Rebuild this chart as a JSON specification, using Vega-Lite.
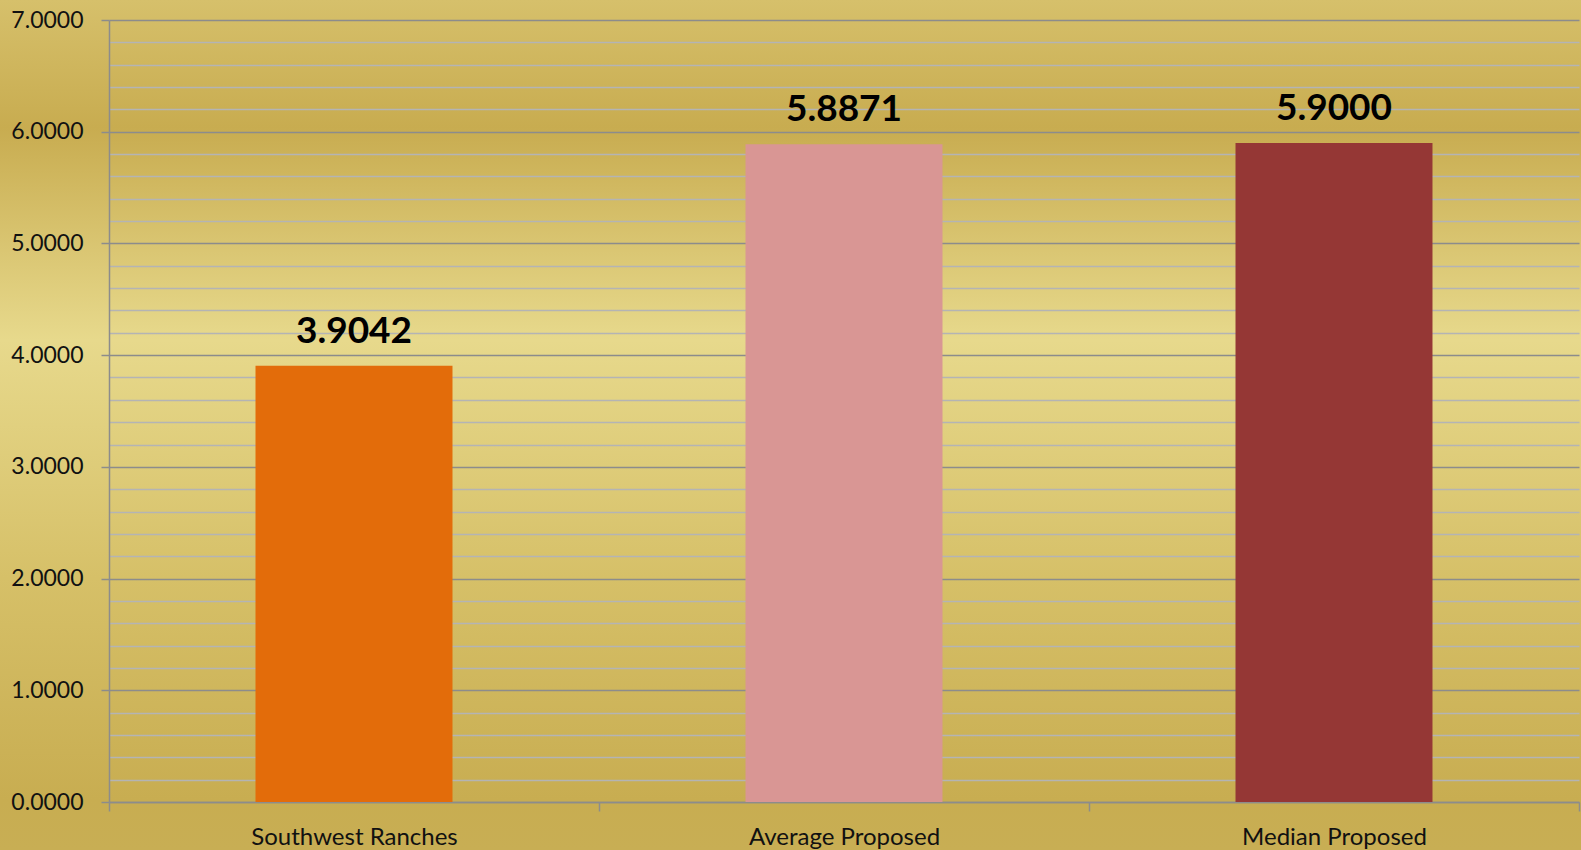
{
  "$schema": "https://vega.github.io/schema/vega-lite/v6.json",
  "width": 1581,
  "height": 850,
  "autosize": {"type": "none"},
  "padding": 0,
  "background": "#d2b95e",
  "data": {
    "values": [
      {"category": "Southwest Ranches", "value": 3.9042},
      {"category": "Average Proposed", "value": 5.8871},
      {"category": "Median Proposed", "value": 5.9}
    ]
  },
  "encoding": {
    "x": {
      "field": "category",
      "type": "nominal",
      "sort": null,
      "scale": {"range": [109, 1579], "paddingInner": 0, "paddingOuter": 0},
      "axis": {
        "title": null,
        "orient": "bottom",
        "offset": -48,
        "labelAngle": 0,
        "tickBand": "extent",
        "tickSize": 9,
        "tickColor": "#8c8c8c",
        "tickWidth": 1.5,
        "domainColor": "#8c8c8c",
        "domainWidth": 1.5,
        "labelFont": "Lato",
        "labelFontSize": 24,
        "labelColor": "#111111",
        "labelPadding": 14,
        "labelLimit": 0,
        "grid": false
      }
    },
    "y": {
      "field": "value",
      "type": "quantitative",
      "scale": {"domain": [0, 7], "range": [802, 20], "nice": false},
      "axis": {
        "title": null,
        "orient": "left",
        "offset": -109,
        "values": [0, 0.2, 0.4, 0.6, 0.8, 1, 1.2, 1.4, 1.6, 1.8, 2, 2.2, 2.4, 2.6, 2.8, 3, 3.2, 3.4, 3.6, 3.8, 4, 4.2, 4.4, 4.6, 4.8, 5, 5.2, 5.4, 5.6, 5.8, 6, 6.2, 6.4, 6.6, 6.8, 7],
        "labelExpr": "abs(datum.value - round(datum.value)) < 0.001 ? format(datum.value, '.4f') : ''",
        "grid": true,
        "gridColor": {"condition": {"test": "abs(datum.value - round(datum.value)) < 0.001", "value": "#8c8c8c"}, "value": "#b4b4b4"},
        "gridWidth": {"condition": {"test": "abs(datum.value - round(datum.value)) < 0.001", "value": 1.6}, "value": 1.3},
        "tickColor": {"condition": {"test": "abs(datum.value - round(datum.value)) < 0.001", "value": "#8c8c8c"}, "value": "transparent"},
        "tickSize": 8,
        "tickWidth": 1.5,
        "domainColor": "#8c8c8c",
        "domainWidth": 1.5,
        "labelFont": "Lato",
        "labelFontSize": 23,
        "labelColor": "#111111",
        "labelPadding": 18,
        "labelOverlap": false,
        "labelFlush": false,
        "labelBound": false
      }
    }
  },
  "layer": [
    {
      "mark": {"type": "bar", "width": {"band": 0.402}},
      "encoding": {
        "color": {
          "field": "category",
          "type": "nominal",
          "scale": {"domain": ["Southwest Ranches", "Average Proposed", "Median Proposed"], "range": ["#e36c0a", "#d99694", "#953735"]},
          "legend": null
        }
      }
    },
    {
      "mark": {"type": "text", "baseline": "alphabetic", "dy": -23, "font": "Lato", "fontWeight": "bold", "fontSize": 37, "color": "#000000"},
      "encoding": {
        "text": {"field": "value", "type": "quantitative", "format": ".4f"}
      }
    }
  ],
  "config": {
    "view": {
      "stroke": null,
      "fill": {
        "gradient": "linear",
        "x1": 0, "y1": 0, "x2": 0, "y2": 1,
        "stops": [
          {"offset": 0, "color": "#d6c06b"},
          {"offset": 0.15, "color": "#c8ac50"},
          {"offset": 0.4, "color": "#e7d98c"},
          {"offset": 0.68, "color": "#d6c068"},
          {"offset": 0.94, "color": "#c8ad51"},
          {"offset": 1, "color": "#c8ae54"}
        ]
      }
    }
  }
}
